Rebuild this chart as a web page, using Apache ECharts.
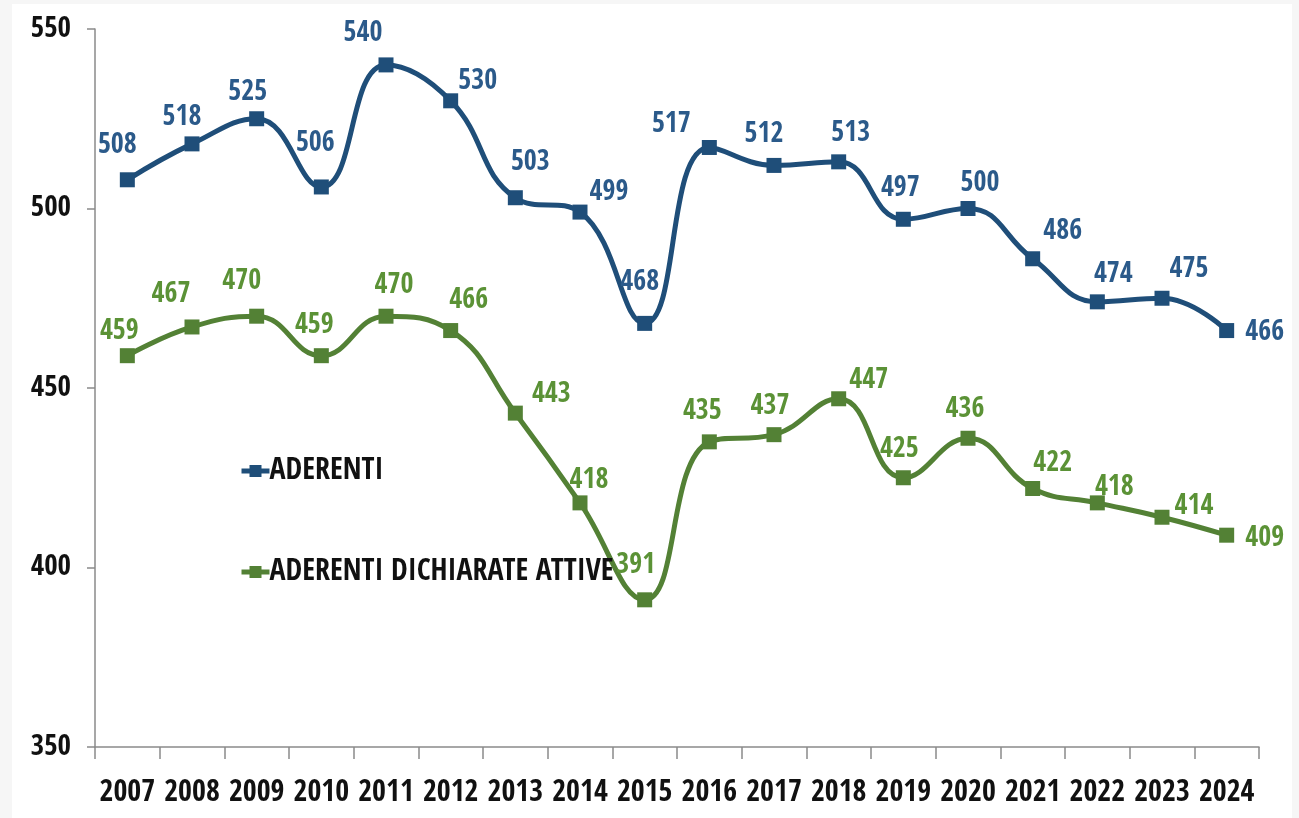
<!DOCTYPE html>
<html>
<head>
<meta charset="utf-8">
<script src="https://cdn.jsdelivr.net/npm/echarts@6/dist/echarts.min.js"></script>
<style>
  html, body { margin: 0; padding: 0; background: #f6f6f6; }
  #chart { position: absolute; left: 12px; top: 4px; width: 1280px; height: 814px; background: #ffffff; }
</style>
</head>
<body>
<div id="chart"></div>
<script>
// Years on the category axis
const years = ['2007','2008','2009','2010','2011','2012','2013','2014','2015',
               '2016','2017','2018','2019','2020','2021','2022','2023','2024'];

// Members per year
const aderenti = [508, 518, 525, 506, 540, 530, 503, 499, 468,
                  517, 512, 513, 497, 500, 486, 474, 475, 466];

// Members declared active per year
const aderentiAttive = [459, 467, 470, 459, 470, 466, 443, 418, 391,
                        435, 437, 447, 425, 436, 422, 418, 414, 409];

// Value axis range and step
const yMin = 350;
const yMax = 550;
const yStep = 50;

// ---- styling ----
const FONT = "'Open Sans Condensed', 'Roboto Condensed', 'DejaVu Sans Condensed', sans-serif";
const BLUE = '#1F4E79';
const BLUE_TEXT = '#2B5A8A';
const GREEN = '#538135';
const GREEN_TEXT = '#5B9236';

// where each value label sits, relative to its marker [dx, dy]
const blueLabelShift = [
  [-10, -34], [-10, -26], [-9, -26], [-6, -43], [-23, -31], [27, -19],
  [15, -35], [29, -19], [-5, -41], [-38, -23], [-10, -31], [12, -28],
  [-3, -31], [12, -25], [30, -27], [16, -27], [27, -29], [38, 2]
];
const greenLabelShift = [
  [-8, -24], [-21, -32], [-15, -35], [-7, -30], [8, -31], [18, -30],
  [36, -18], [9, -22], [-9, -34], [-7, -30], [-4, -28], [30, -18],
  [-4, -28], [-3, -29], [20, -25], [17, -15], [32, -11], [38, 3]
];

function withLabels(values, shifts) {
  return values.map((v, i) => ({ value: v, label: { offset: shifts[i] } }));
}

const axisGray = '#8a8a8a';

const chart = echarts.init(document.getElementById('chart'));
chart.setOption({
  animation: false,
  backgroundColor: '#ffffff',
  grid: { left: 83, right: 33, top: 25, bottom: 71, containLabel: false },
  legend: {
    orient: 'vertical',
    left: 222,
    top: 447,
    itemWidth: 28,
    itemHeight: 15,
    itemGap: 71,
    lineStyle: { width: 5 },
    textStyle: { fontFamily: FONT, fontWeight: 'bold', fontSize: 30, color: '#111111', padding: [0, 0, 0, -5] },
    data: ['ADERENTI', 'ADERENTI DICHIARATE ATTIVE']
  },
  xAxis: {
    type: 'category',
    data: years,
    boundaryGap: true,
    axisLine: { show: true, lineStyle: { color: axisGray, width: 1.5 } },
    axisTick: { show: true, alignWithLabel: false, length: 12, lineStyle: { color: axisGray, width: 1.5 } },
    axisLabel: { margin: 31, fontFamily: FONT, fontWeight: 'bold', fontSize: 30, color: '#111111', interval: 0 },
    splitLine: { show: false }
  },
  yAxis: {
    type: 'value',
    min: yMin,
    max: yMax,
    interval: yStep,
    axisLine: { show: true, lineStyle: { color: axisGray, width: 1.5 } },
    axisTick: { show: true, length: 8, lineStyle: { color: axisGray, width: 1.5 } },
    axisLabel: { margin: 24, fontFamily: FONT, fontWeight: 'bold', fontSize: 29, color: '#111111' },
    splitLine: { show: false }
  },
  series: [
    {
      name: 'ADERENTI',
      type: 'line',
      smooth: 0.45,
      data: withLabels(aderenti, blueLabelShift),
      symbol: 'rect',
      symbolSize: 15,
      lineStyle: { color: BLUE, width: 5 },
      itemStyle: { color: BLUE },
      label: {
        show: true,
        position: 'inside',
        fontFamily: FONT,
        fontWeight: 'bold',
        fontSize: 28,
        color: BLUE_TEXT
      },
      z: 3
    },
    {
      name: 'ADERENTI DICHIARATE ATTIVE',
      type: 'line',
      smooth: 0.45,
      data: withLabels(aderentiAttive, greenLabelShift),
      symbol: 'rect',
      symbolSize: 15,
      lineStyle: { color: GREEN, width: 5 },
      itemStyle: { color: GREEN },
      label: {
        show: true,
        position: 'inside',
        fontFamily: FONT,
        fontWeight: 'bold',
        fontSize: 28,
        color: GREEN_TEXT
      },
      z: 2
    }
  ]
});
</script>
</body>
</html>
